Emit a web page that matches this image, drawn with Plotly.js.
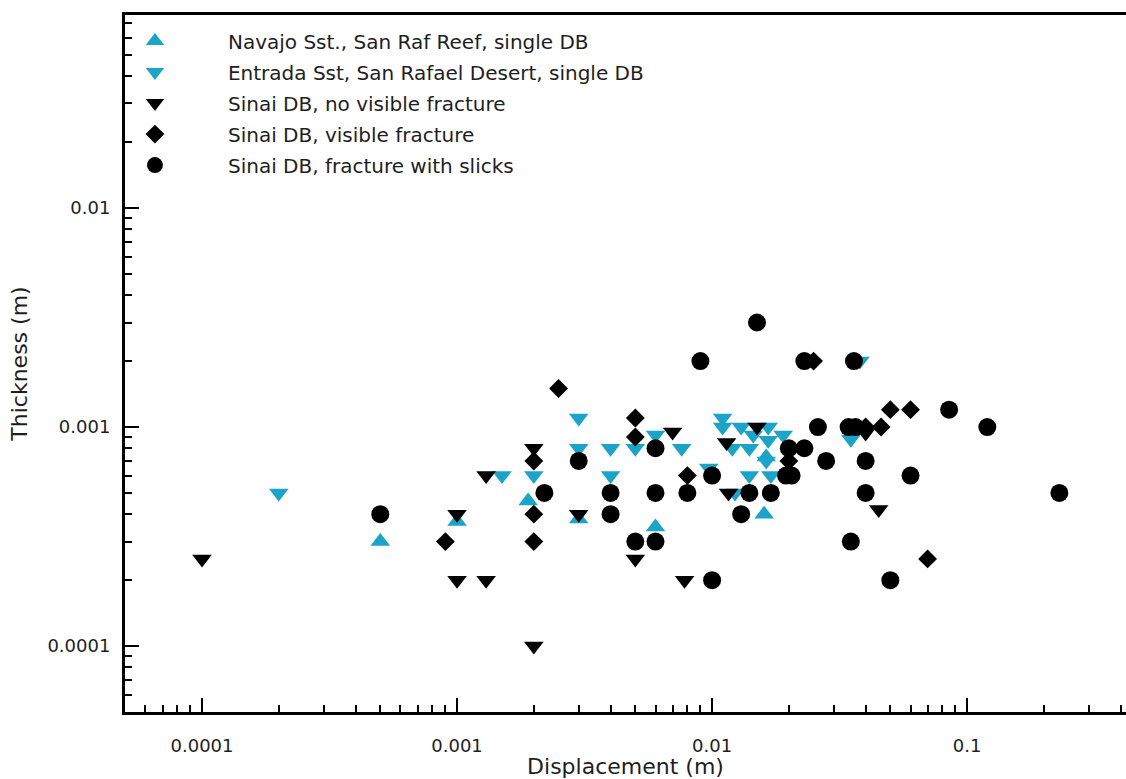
<!DOCTYPE html>
<html>
<head>
<meta charset="utf-8">
<script src="https://cdn.plot.ly/plotly-3.0.1.min.js"></script>
<style>html,body{margin:0;padding:0;background:#fff;}#chart{width:1126px;height:779px;}</style>
</head>
<body>
<div id="chart"></div>
<script>
// ---- data ----
const seriesNames = [
  "Navajo Sst., San Raf Reef, single DB",
  "Entrada Sst, San Rafael Desert, single DB",
  "Sinai DB, no visible fracture",
  "Sinai DB, visible fracture",
  "Sinai DB, fracture with slicks"
];

const navajoX = [0.0005, 0.001, 0.0019, 0.003, 0.006, 0.0163, 0.016];
const navajoY = [0.0003, 0.00037, 0.00046, 0.00038, 0.00035, 0.00073, 0.0004];

const entradaX = [0.0002, 0.0015, 0.002, 0.003, 0.003, 0.004, 0.004, 0.005, 0.006, 0.0076, 0.0097, 0.011, 0.011, 0.012, 0.013, 0.014, 0.0145, 0.0166, 0.0166, 0.019, 0.0163, 0.014, 0.017, 0.0123, 0.035, 0.038];
const entradaY = [0.0005, 0.0006, 0.0006, 0.0011, 0.0008, 0.0008, 0.0006, 0.0008, 0.00092, 0.0008, 0.00065, 0.0011, 0.001, 0.0008, 0.001, 0.0008, 0.00092, 0.001, 0.00087, 0.00092, 0.0007, 0.0006, 0.0006, 0.0005, 0.00088, 0.002];

const noFracX = [0.0001, 0.001, 0.0013, 0.001, 0.0013, 0.002, 0.002, 0.003, 0.005, 0.007, 0.0078, 0.0114, 0.0116, 0.015, 0.04, 0.045];
const noFracY = [0.00025, 0.0002, 0.0002, 0.0004, 0.0006, 0.0008, 0.0001, 0.0004, 0.00025, 0.00095, 0.0002, 0.00085, 0.0005, 0.001, 0.00094, 0.00042];

const visFracX = [0.0009, 0.002, 0.002, 0.002, 0.0025, 0.005, 0.005, 0.008, 0.02, 0.025, 0.04, 0.046, 0.05, 0.06, 0.07];
const visFracY = [0.0003, 0.0007, 0.0004, 0.0003, 0.0015, 0.0011, 0.0009, 0.0006, 0.0007, 0.002, 0.001, 0.001, 0.0012, 0.0012, 0.00025];

const slicksX = [0.0005, 0.0022, 0.003, 0.004, 0.004, 0.005, 0.006, 0.006, 0.006, 0.008, 0.009, 0.01, 0.01, 0.013, 0.014, 0.015, 0.017, 0.0195, 0.0205, 0.02, 0.023, 0.023, 0.026, 0.028, 0.0343, 0.0365, 0.036, 0.04, 0.04, 0.035, 0.05, 0.06, 0.085, 0.12, 0.23];
const slicksY = [0.0004, 0.0005, 0.0007, 0.0005, 0.0004, 0.0003, 0.0008, 0.0005, 0.0003, 0.0005, 0.002, 0.0006, 0.0002, 0.0004, 0.0005, 0.003, 0.0005, 0.0006, 0.0006, 0.0008, 0.0008, 0.002, 0.001, 0.0007, 0.001, 0.001, 0.002, 0.0007, 0.0005, 0.0003, 0.0002, 0.0006, 0.0012, 0.001, 0.0005];

const xTickVals = [0.0001, 0.001, 0.01, 0.1];
const xTickText = ["0.0001", "0.001", "0.01", "0.1"];
const yTickVals = [0.0001, 0.001, 0.01];
const yTickText = ["0.0001", "0.001", "0.01"];

// ---- styling ----
const CYAN = "#1ba3c8";
const BLACK = "#000000";
const FONT = "DejaVu Sans, Open Sans, sans-serif";
const TXT = "#1e1e1e";

function minorVals(fromExp, toExp) {
  const v = [];
  for (let e = fromExp; e <= toExp; e++) {
    for (let k = 2; k <= 9; k++) v.push(k * Math.pow(10, e));
  }
  return v;
}

function mk(name, x, y, symbol, color, size, group) {
  return {
    type: "scatter", mode: "markers", name: name, x: x, y: y,
    legendgroup: group,
    marker: { symbol: symbol, color: color, size: size, line: { width: 0 } },
    hoverinfo: "x+y+name"
  };
}

const traces = [
  mk(seriesNames[0], navajoX, navajoY, "triangle-up", CYAN, 17, "g1"),
  mk(seriesNames[1], entradaX, entradaY, "triangle-down", CYAN, 17, "g2"),
  mk(seriesNames[2], noFracX, noFracY, "triangle-down", BLACK, 17, "g3"),
  mk(seriesNames[3], visFracX, visFracY, "diamond", BLACK, 14.5, "g4"),
  mk(seriesNames[4], slicksX, slicksY, "circle", BLACK, 18, "g5")
];

const axisCommon = {
  type: "log",
  showline: true, linewidth: 3, linecolor: BLACK,
  ticks: "inside", ticklen: 14, tickwidth: 2, tickcolor: BLACK,
  showgrid: false, zeroline: false,
  tickmode: "array",
  tickfont: { family: FONT, size: 18, color: TXT }
};

const layout = {
  width: 1126, height: 779,
  margin: { l: 125, r: 0, t: 15, b: 67 },
  paper_bgcolor: "#ffffff", plot_bgcolor: "#ffffff",
  font: { family: FONT, color: TXT },
  showlegend: true,
  legend: {
    x: -0.043, xanchor: "left", y: 0.9905, yanchor: "top",
    bgcolor: "rgba(0,0,0,0)", borderwidth: 0,
    itemwidth: 136, tracegroupgap: 2, traceorder: "grouped",
    font: { family: FONT, size: 20, color: TXT }
  },
  xaxis: Object.assign({}, axisCommon, {
    range: [-4.302, -0.377],
    mirror: true,
    tickvals: xTickVals, ticktext: xTickText,
    ticklabelstandoff: 15,
    minor: { tickmode: "array", tickvals: minorVals(-5, -1), ticks: "inside", ticklen: 7, tickwidth: 2, tickcolor: BLACK, showgrid: false },
    title: { text: "Displacement (m)", font: { family: FONT, size: 22, color: TXT }, standoff: 4 }
  }),
  yaxis: Object.assign({}, axisCommon, {
    range: [-4.301, -1.119],
    mirror: false,
    tickvals: yTickVals, ticktext: yTickText,
    ticklabelstandoff: 8,
    minor: { tickmode: "array", tickvals: minorVals(-5, -1), ticks: "inside", ticklen: 7, tickwidth: 2, tickcolor: BLACK, showgrid: false },
    title: { text: "Thickness (m)", font: { family: FONT, size: 22, color: TXT }, standoff: 14 }
  })
};

Plotly.newPlot("chart", traces, layout, { displayModeBar: false });
</script>
</body>
</html>
